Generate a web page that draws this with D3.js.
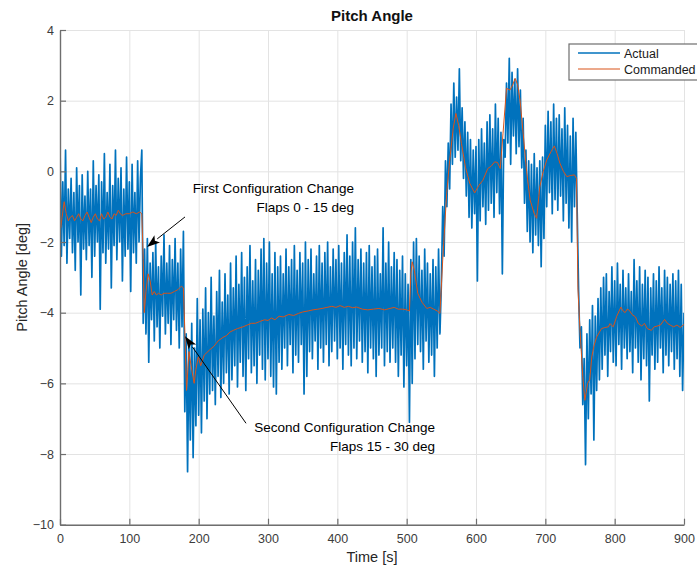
<!DOCTYPE html>
<html>
<head>
<meta charset="utf-8">
<script src="https://cdn.jsdelivr.net/npm/d3@7"></script>
<style>
  body { margin: 0; background: #fff; }
  svg { display: block; font-family: "Liberation Sans", Arial, sans-serif; }
</style>
</head>
<body>
<svg id="chart"></svg>
<script>
// Axis ticks
const xTicks = [0, 100, 200, 300, 400, 500, 600, 700, 800, 900];
const yTicks = [-10, -8, -6, -4, -2, 0, 2, 4];

// Actual pitch angle, sampled every 2 s (0 .. 900 s)
const actualStep = 2;
const actualValues = [
  0.8, -2.4, -0.3, -2.1, 0.6, -2.6, -0.5, -1.9, -0.2, -2.3,
  -0.6, -2.8, 0.1, -2.0, -0.4, -3.5, -0.1, -2.2, -0.7, -2.5,
  0.0, -2.1, -0.5, -3.0, 0.3, -2.4, -0.4, -2.0, -0.1, -3.9,
  -0.3, -2.3, 0.5, -2.6, -0.6, -2.2, 0.2, -3.3, -0.4, -2.1,
  0.6, -2.5, -0.2, -2.0, 0.1, -3.1, -0.5, -2.4, 0.4, -2.2,
  -0.3, -3.4, 0.2, -2.3, -0.6, -2.6, 0.3, -2.0, -0.2, 0.6,
  -4.3, -2.2, -4.6, -1.9, -5.4, -2.6, -4.2, -2.3, -4.8, -2.0,
  -4.4, -2.7, -5.0, -2.4, -4.1, -1.8, -4.6, -2.6, -4.3, -2.1,
  -4.9, -2.5, -4.2, -1.9, -4.5, -2.6, -5.0, -2.2, -4.4, -1.7,
  -6.8, -4.6, -8.5, -4.9, -7.6, -4.3, -8.1, -5.0, -7.2, -3.6,
  -6.9, -4.2, -7.4, -3.9, -6.5, -3.3, -7.0, -4.0, -6.3, -3.0,
  -6.2, -4.1, -6.6, -3.4, -5.8, -2.8, -6.4, -3.7, -6.0, -2.9,
  -5.7, -3.5, -6.3, -2.6, -5.9, -3.3, -5.5, -2.4, -6.1, -3.2,
  -5.4, -2.3, -5.8, -3.0, -6.2, -2.7, -5.3, -2.1, -5.7, -3.1,
  -5.5, -2.5, -6.0, -2.8, -5.2, -2.2, -5.6, -1.9, -5.9, -2.6,
  -5.3, -2.0, -5.8, -2.9, -6.1, -2.3, -6.3, -2.7, -5.4, -2.4,
  -5.6, -2.9, -5.0, -2.2, -5.5, -2.7, -4.9, -2.5, -5.7, -2.1,
  -5.2, -2.8, -5.4, -2.3, -4.9, -2.6, -6.3, -2.0, -5.8, -2.5,
  -5.1, -2.2, -5.3, -2.9, -4.8, -2.4, -5.6, -2.1, -5.0, -2.6,
  -5.4, -2.3, -4.9, -2.0, -5.5, -2.7, -5.1, -2.2, -4.8, -2.5,
  -5.3, -2.1, -5.0, -2.6, -5.6, -2.3, -4.9, -1.8, -5.2, -2.4,
  -5.5, -2.0, -5.0, -1.6, -5.3, -2.5, -4.8, -2.2, -5.4, -2.6,
  -5.1, -2.3, -5.7, -2.1, -5.0, -2.7, -5.3, -2.4, -5.8, -2.2,
  -5.2, -2.9, -5.0, -1.6, -5.5, -2.6, -5.1, -2.0, -5.4, -2.7,
  -5.0, -2.3, -5.4, -2.5, -5.8, -2.8, -5.2, -2.4, -6.1, -2.9,
  -5.5, -3.2, -7.1, -2.5, -6.0, -2.0, -5.3, -1.9, -4.9, -2.4,
  -5.1, -2.8, -5.6, -2.2, -4.8, -2.6, -5.4, -2.9, -5.2, -2.5,
  -5.8, -2.7, -5.0, -2.2, -4.6, -3.2, -1.0, -2.4, 0.3, -1.0,
  0.8, -0.5, 1.9, 0.2, 2.5, 0.4, 2.1, 0.6, 2.9, 0.3,
  1.8, -0.2, 1.4, -0.7, 1.1, -1.3, 0.9, -1.6, 0.6, -1.2,
  0.7, -3.1, 0.9, -1.4, 1.2, -1.0, 0.8, -1.5, 1.4, -1.1,
  1.6, -0.9, 1.2, -1.3, 1.9, -0.6, 1.5, -1.2, 1.1, -2.9,
  0.9, 0.4, 2.5, 0.8, 3.2, 0.2, 2.8, 1.0, 2.6, 0.5,
  2.9, 0.7, 2.3, 0.1, 1.5, -0.9, 0.6, -1.7, 0.3, -2.0,
  0.2, -2.3, 0.5, -1.8, 0.1, -2.1, 0.3, -2.7, 0.4, -1.9,
  1.3, -1.0, 1.7, -0.6, 1.4, -1.2, 1.9, -0.8, 1.5, -1.1,
  1.6, -0.7, 1.2, -1.4, 1.8, -0.9, 1.3, -1.6, 1.0, -2.0,
  1.5, -1.0, 1.1, -1.2, -3.4, -5.0, -4.4, -6.6, -5.3, -8.3,
  -4.6, -7.0, -4.2, -6.3, -3.8, -7.6, -4.1, -6.2, -3.6, -5.9,
  -3.3, -5.6, -3.0, -5.2, -2.9, -5.8, -3.4, -5.1, -2.7, -5.4,
  -3.1, -5.5, -2.6, -4.9, -3.2, -5.6, -2.8, -5.0, -3.3, -5.3,
  -2.9, -5.1, -3.4, -5.7, -2.5, -5.0, -3.1, -5.4, -2.7, -5.9,
  -3.2, -5.3, -2.8, -5.5, -3.0, -6.5, -3.3, -5.2, -2.9, -5.6,
  -3.1, -5.4, -2.7, -5.0, -3.3, -5.7, -2.8, -5.2, -3.0, -5.5,
  -3.2, -5.1, -2.9, -5.6, -3.1, -5.3, -2.8, -5.8, -3.2, -6.2,
  -4.0
];

// Commanded pitch angle (time [s], angle [deg])
const commandedTime = [
  0, 1, 3, 6, 9, 12, 15, 18, 21, 24, 27, 30, 33, 36, 39, 42, 45, 48, 51, 54,
  57, 60, 63, 66, 69, 72, 75, 78, 81, 84, 87, 90, 95, 100, 105, 110, 115, 118, 120, 121.5,
  124, 127, 130, 133, 136, 139, 142, 146, 150, 155, 160, 165, 170, 175, 178, 180, 182.5, 184.5, 186, 189,
  193.5, 196, 199.5, 203, 208, 216, 222, 228, 235, 240, 245, 250, 256, 264, 270, 276, 282, 288, 295, 300,
  305, 310, 316, 322, 330, 337, 344, 350, 358, 365, 372, 378, 385, 392, 398, 404, 410, 416, 422, 428,
  436, 444, 452, 460, 468, 476, 482, 488, 494, 500, 504, 506, 508, 511, 516, 522, 529, 534, 539, 544,
  548, 552, 557.7, 562, 567, 571, 575, 579, 585, 591, 598, 604, 610, 617, 622, 627, 631, 635, 639, 644,
  649, 653, 656.5, 660, 663.5, 668, 673, 678, 684, 687.5, 692, 697, 702, 708, 713, 717, 721, 726, 731, 736,
  742, 745, 747, 750, 754, 757, 761, 764, 767, 770, 774, 781, 786, 791, 793, 798, 803, 809, 812, 815,
  818, 821, 825, 830, 834, 839, 843, 847, 853, 857, 861, 866, 872, 876, 880, 885, 890, 894.6, 900
];
const commandedValues = [
  0.0, -1.6, -1.3, -0.86, -1.2, -1.4, -1.3, -1.25, -1.4, -1.3, -1.2, -1.35, -1.4, -1.25, -1.15, -1.3, -1.45, -1.3, -1.2, -1.35,
  -1.4, -1.2, -1.35, -1.3, -1.15, -1.3, -1.35, -1.2, -1.25, -1.1, -1.2, -1.25, -1.2, -1.2, -1.15, -1.2, -1.15, -1.2, -2.5, -4.0,
  -3.4, -2.9, -3.1, -3.5, -3.4, -3.5, -3.45, -3.5, -3.45, -3.45, -3.45, -3.4, -3.35, -3.25, -3.3, -4.5, -6.2, -5.6, -5.1, -5.5,
  -6.0, -5.6, -5.25, -5.5, -5.2, -5.05, -4.95, -4.8, -4.7, -4.65, -4.55, -4.5, -4.45, -4.4, -4.35, -4.3, -4.3, -4.25, -4.2, -4.22,
  -4.15, -4.2, -4.1, -4.12, -4.05, -4.08, -4.02, -3.98, -3.95, -3.92, -3.9, -3.88, -3.85, -3.82, -3.85, -3.8, -3.85, -3.82, -3.86, -3.84,
  -3.9, -3.92, -3.9, -3.88, -3.92, -3.88, -3.85, -3.9, -3.9, -3.92, -3.95, -2.9, -2.56, -2.8, -3.45, -3.7, -3.88, -3.85, -3.9, -3.95,
  -4.02, -2.5, -0.62, 0.3, 1.2, 1.64, 1.3, 0.79, 0.1, -0.34, -0.61, -0.4, -0.25, 0.08, 0.15, 0.27, 0.25, 0.08, 1.08, 2.35,
  2.3, 2.45, 2.63, 2.45, 2.02, 1.08, 0.0, -0.81, -1.2, -1.33, -0.44, 0.0, 0.32, 0.55, 0.72, 0.5, 0.23, 0.0, -0.15, -0.12,
  -0.1, -0.2, -3.3, -4.5, -5.8, -6.48, -6.0, -5.9, -5.25, -4.95, -4.69, -4.45, -4.42, -4.4, -4.31, -4.4, -4.1, -3.84, -3.95, -4.0,
  -3.9, -3.93, -4.05, -4.12, -4.3, -4.38, -4.3, -4.45, -4.5, -4.4, -4.38, -4.35, -4.19, -4.3, -4.35, -4.4, -4.35, -4.42, -4.33
];

// Series labels and colours
const seriesNames = ['Actual', 'Commanded'];
const seriesColors = ['#0072bd', '#d95319'];

// Annotations in data coordinates: arrow tail -> head, text right edge
const annotations = [
  { lines: ['First Configuration Change', 'Flaps 0 - 15 deg'], textT: 424, textV: -0.62,
    tail: [180.3, -1.29], head: [125.5, -2.14] },
  { lines: ['Second Configuration Change', 'Flaps 15 - 30 deg'], textT: 541, textV: -7.39,
    tail: [268.3, -7.13], head: [180.3, -4.67] }
];

const W = 697, H = 569;
const plot = { left: 60, right: 684, top: 30, bottom: 524.7 };

const svg = d3.select('#chart').attr('width', W).attr('height', H);

const x = d3.scaleLinear().domain([0, 900]).range([plot.left, plot.right]);
const y = d3.scaleLinear().domain([-10, 4]).range([plot.bottom, plot.top]);

// Grid
svg.append('g')
  .attr('transform', `translate(0,${plot.bottom})`)
  .call(d3.axisBottom(x).tickValues(xTicks).tickSize(-(plot.bottom - plot.top)).tickFormat(''))
  .call(g => g.select('.domain').remove())
  .selectAll('line').attr('stroke', '#e3e3e3').attr('stroke-width', 1);

svg.append('g')
  .attr('transform', `translate(${plot.left},0)`)
  .call(d3.axisLeft(y).tickValues(yTicks).tickSize(-(plot.right - plot.left)).tickFormat(''))
  .call(g => g.select('.domain').remove())
  .selectAll('line').attr('stroke', '#e3e3e3').attr('stroke-width', 1);

// Clip to the axes
svg.append('defs').append('clipPath').attr('id', 'plot-clip')
  .append('rect')
  .attr('x', plot.left).attr('y', plot.top)
  .attr('width', plot.right - plot.left).attr('height', plot.bottom - plot.top);

const actual = actualValues.map((v, i) => [i * actualStep, v]);
const commanded = commandedTime.map((t, i) => [t, commandedValues[i]]);

const line = d3.line().x(d => x(d[0])).y(d => y(d[1]));

const lines = svg.append('g').attr('clip-path', 'url(#plot-clip)');

// thick stroke so the 2 s zigzag reads as a solid noise band
lines.append('path')
  .datum(actual)
  .attr('d', line)
  .attr('fill', 'none')
  .attr('stroke', seriesColors[0])
  .attr('stroke-width', 1.7)
  .attr('stroke-linejoin', 'round');

lines.append('path')
  .datum(commanded)
  .attr('d', line)
  .attr('fill', 'none')
  .attr('stroke', seriesColors[1])
  .attr('stroke-width', 1)
  .attr('stroke-linejoin', 'round');

// Axes
const axisColor = '#6e6e6e';
const labelColor = '#3c3c3c';

const xAxis = svg.append('g')
  .attr('transform', `translate(0,${plot.bottom})`)
  .call(d3.axisBottom(x).tickValues(xTicks).tickSizeInner(-6).tickSizeOuter(0).tickPadding(9));
const yAxis = svg.append('g')
  .attr('transform', `translate(${plot.left},0)`)
  .call(d3.axisLeft(y).tickValues(yTicks).tickSizeInner(-6).tickSizeOuter(0).tickPadding(6));

[xAxis, yAxis].forEach(g => {
  g.select('.domain').attr('stroke', axisColor).attr('stroke-width', 1.4);
  g.selectAll('.tick line').attr('stroke', axisColor).attr('stroke-width', 1.2);
  g.selectAll('.tick text')
    .attr('fill', labelColor)
    .attr('font-size', '12.5px')
    .attr('font-family', '"Liberation Sans", Arial, sans-serif');
});

// Title and axis labels
svg.append('text')
  .attr('x', (plot.left + plot.right) / 2)
  .attr('y', 21)
  .attr('text-anchor', 'middle')
  .attr('font-size', '15px')
  .attr('font-weight', 'bold')
  .attr('fill', '#111')
  .text('Pitch Angle');

svg.append('text')
  .attr('x', (plot.left + plot.right) / 2)
  .attr('y', 562)
  .attr('text-anchor', 'middle')
  .attr('font-size', '14.5px')
  .attr('fill', '#262626')
  .text('Time [s]');

svg.append('text')
  .attr('transform', `translate(27,${(plot.top + plot.bottom) / 2}) rotate(-90)`)
  .attr('text-anchor', 'middle')
  .attr('font-size', '14.5px')
  .attr('fill', '#262626')
  .text('Pitch Angle [deg]');

// Annotations
annotations.forEach(a => {
  const x1 = x(a.tail[0]), y1 = y(a.tail[1]);
  const x2 = x(a.head[0]), y2 = y(a.head[1]);
  const ang = Math.atan2(y2 - y1, x2 - x1);
  const len = 13, half = 4.5;
  const bx = x2 - len * Math.cos(ang), by = y2 - len * Math.sin(ang);

  svg.append('line')
    .attr('x1', x1).attr('y1', y1)
    .attr('x2', bx).attr('y2', by)
    .attr('stroke', '#000')
    .attr('stroke-width', 1);

  svg.append('path')
    .attr('d', `M${x2},${y2}L${bx - half * Math.sin(ang)},${by + half * Math.cos(ang)}` +
      `L${bx + 3 * Math.cos(ang)},${by + 3 * Math.sin(ang)}` +
      `L${bx + half * Math.sin(ang)},${by - half * Math.cos(ang)}Z`)
    .attr('fill', '#000');

  a.lines.forEach((s, i) => {
    svg.append('text')
      .attr('x', x(a.textT))
      .attr('y', y(a.textV) + i * 19)
      .attr('text-anchor', 'end')
      .attr('font-size', '13.5px')
      .attr('fill', '#000')
      .text(s);
  });
});

// Legend
const legend = svg.append('g').attr('transform', 'translate(569,44)');
legend.append('rect')
  .attr('width', 140).attr('height', 36)
  .attr('fill', '#fff')
  .attr('stroke', '#6e6e6e')
  .attr('stroke-width', 1.2);

seriesNames.forEach((name, i) => {
  const ly = 9 + i * 16;
  legend.append('line')
    .attr('x1', 9).attr('x2', 51)
    .attr('y1', ly).attr('y2', ly)
    .attr('stroke', seriesColors[i])
    .attr('stroke-width', i === 0 ? 1.5 : 1);
  legend.append('text')
    .attr('x', 55).attr('y', ly + 4.5)
    .attr('font-size', '12.5px')
    .attr('fill', '#1a1a1a')
    .text(name);
});
</script>
</body>
</html>
